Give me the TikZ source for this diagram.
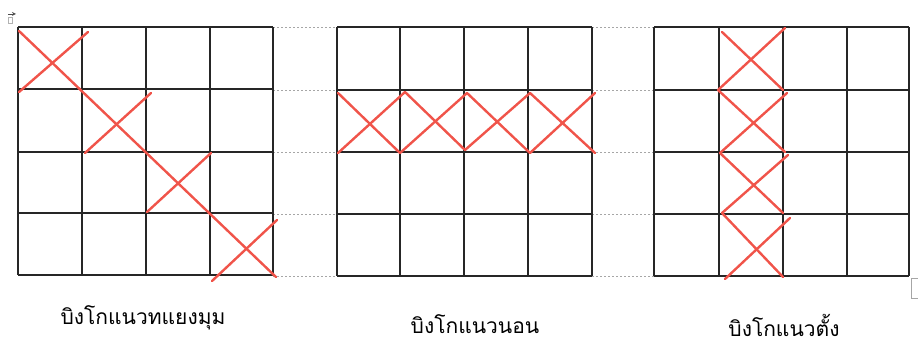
\documentclass[tikz,border=0pt]{standalone}
\usepackage{fontspec}
\newfontfamily\thaifont[Script=Thai]{Loma}
\definecolor{xred}{RGB}{240,84,74}
\tikzset{
  gridline/.style={draw=black!85, line width=1.3pt},
  xline/.style={draw=xred, line width=2.4pt, line cap=round, line join=round},
  gapline/.style={draw=black!35, line width=0.6pt, dash pattern=on 2pt off 2pt},
  lbl/.style={font=\thaifont\fontsize{21}{25}\selectfont, text=black, inner sep=0pt}
}
\begin{document}
\begin{tikzpicture}[x=1pt,y=-1pt]
\useasboundingbox (0,0) rectangle (918,342);
% gap dotted lines
\foreach \y in {27,90,152,214,276} {
  \draw[gapline] (273,\y) -- (337,\y);
  \draw[gapline] (592,\y) -- (654,\y);
}
% grid 1
\foreach \x in {18,82,146,210,273} \draw[gridline] (\x,27) -- (\x,275);
\foreach \y in {27,89,152,213,275} \draw[gridline] (18,\y) -- (273,\y);
% grid 2
\foreach \x in {337,400,464,528,592} \draw[gridline] (\x,27) -- (\x,276);
\foreach \y in {27,90,152,214,276} \draw[gridline] (337,\y) -- (592,\y);
% grid 3
\foreach \x in {654,719,783,847,909} \draw[gridline] (\x,27) -- (\x,276);
\foreach \y in {27,90,152,214,276} \draw[gridline] (654,\y) -- (909,\y);
% red marks grid 1 (diagonal)
\draw[xline] (19,31) -- (276,277);
\draw[xline] (19,92) -- (88,32);
\draw[xline] (85,153) -- (151,93);
\draw[xline] (147,212) -- (211,153);
\draw[xline] (212,281) -- (277,220);
% red marks grid 2 (horizontal)
\draw[xline] (338,93) -- (400,153) -- (467,93) -- (530,153) -- (595,93);
\draw[xline] (338,153) -- (405,92) -- (465,150) -- (530,93) -- (595,153);
% red marks grid 3 (vertical)
\draw[xline] (722,32) -- (783,90);
\draw[xline] (718,90) -- (785,28);
\draw[xline] (718,90) -- (785,152);
\draw[xline] (787,93) -- (720,153);
\draw[xline] (720,153) -- (783,213);
\draw[xline] (788,155) -- (722,213);
\draw[xline] (722,213) -- (783,277);
\draw[xline] (790,218) -- (725,279);
% small editor marks
\draw[black!70, line width=0.8pt, -stealth] (8,14) -- (16,14);
\draw[black!30, line width=0.4pt] (8,17) rectangle (12,23);
\draw[black!35, line width=0.6pt] (918,278) -- (911,278) -- (911,298) -- (918,298);
% labels
\node[lbl] (l1) at (143,318) {บิงโกแนวทแยงมุม};
\node[lbl] (l2) at (475,324) {บิงโกแนวนอน};
\node[lbl] (l3) at (784,325) {บิงโกแนวตั้ง};
\end{tikzpicture}
\end{document}
